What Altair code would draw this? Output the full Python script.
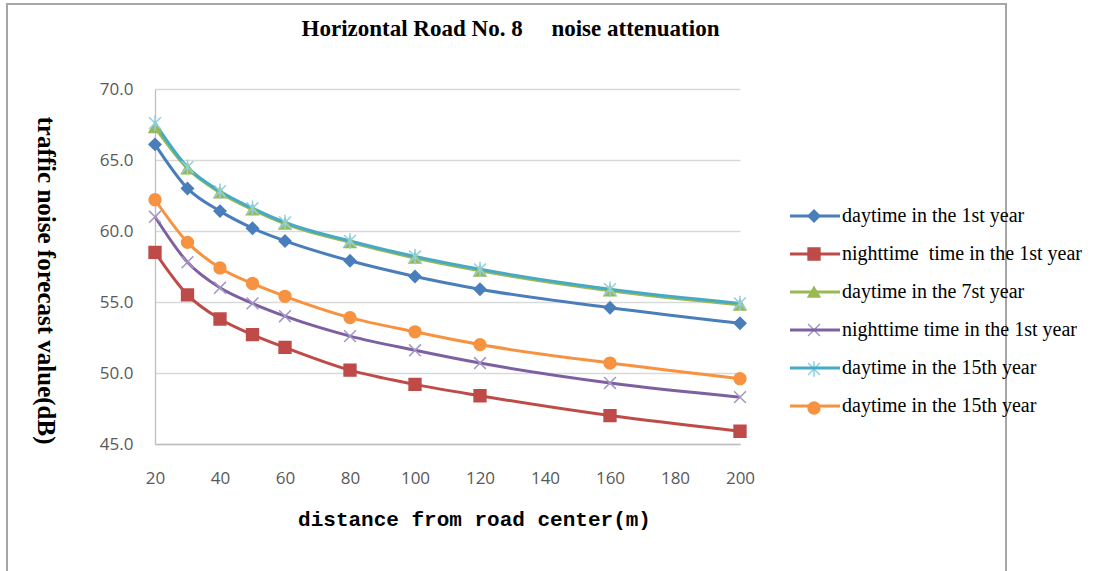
import altair as alt
import pandas as pd

# ---- data ----
distance = [20, 30, 40, 50, 60, 80, 100, 120, 160, 200]
series_names = [
    "daytime in the 1st year",
    "nighttime\u00a0 time in the 1st year",
    "daytime in the 7st year",
    "nighttime time in the 1st year",
    "daytime in the 15th year ",
    "daytime in the 15th year",
]
day_1st = [66.1, 63.0, 61.4, 60.2, 59.3, 57.9, 56.8, 55.9, 54.6, 53.5]
night_1st_a = [58.5, 55.5, 53.8, 52.7, 51.8, 50.2, 49.2, 48.4, 47.0, 45.9]
day_7th = [67.3, 64.4, 62.7, 61.5, 60.5, 59.2, 58.1, 57.2, 55.8, 54.8]
night_1st_b = [61.0, 57.8, 56.0, 54.9, 54.0, 52.6, 51.6, 50.7, 49.3, 48.3]
day_15th_a = [67.6, 64.5, 62.8, 61.6, 60.6, 59.3, 58.2, 57.3, 55.9, 54.9]
day_15th_b = [62.2, 59.2, 57.4, 56.3, 55.4, 53.9, 52.9, 52.0, 50.7, 49.6]
series_values = [day_1st, night_1st_a, day_7th, night_1st_b, day_15th_a, day_15th_b]

x_ticks = [20, 40, 60, 80, 100, 120, 140, 160, 180, 200]
y_ticks = [45, 50, 55, 60, 65, 70]

line_colors = ["#4A7EBB", "#BE4B48", "#98B954", "#7D60A0", "#46AAC5", "#F69240"]
marker_strokes = ["#4A7EBB", "#BE4B48", "#98B954", "#A495C8", "#8ED0E3", "#F69240"]
marker_shapes = [
    "diamond",
    "square",
    "triangle-up",
    "M-1,-1L1,1M-1,1L1,-1",
    "M-1,-1L1,1M-1,1L1,-1M0,-1.3L0,1.3",
    "circle",
]

rows = []
for name, vals in zip(series_names, series_values):
    for d, v in zip(distance, vals):
        rows.append({"series": name, "distance": d, "value": v})
df = pd.DataFrame(rows)

label_font = "Open Sans"
x_enc = alt.X(
    "distance:Q",
    scale=alt.Scale(domain=[20, 200], nice=False, zero=False),
    axis=alt.Axis(
        values=x_ticks,
        title="distance from road center(m)",
        grid=False,
        ticks=False,
        domainColor="#BFBFBF",
        domainWidth=1.3,
        labelFont=label_font,
        labelFontSize=17,
        labelColor="#595959",
        labelPadding=26,
        labelFlush=False,
        labelOverlap=False,
        titleFont="Liberation Mono",
        titleFontSize=21,
        titleFontWeight="bold",
        titleColor="#000000",
        titleX=319,
        titleY=75,
        titleBaseline="middle",
        titleAlign="center",
    ),
)
y_enc = alt.Y(
    "value:Q",
    scale=alt.Scale(domain=[45, 70], nice=False, zero=False),
    axis=alt.Axis(
        values=y_ticks,
        format=".1f",
        title="traffic noise forecast value(dB)",
        grid=True,
        gridColor="#D9D9D9",
        gridWidth=1.3,
        ticks=False,
        domainColor="#BFBFBF",
        domainWidth=1.3,
        labelFont=label_font,
        labelFontSize=17,
        labelColor="#595959",
        labelPadding=22,
        titleFont="Liberation Serif",
        titleFontSize=25,
        titleFontWeight="bold",
        titleColor="#000000",
        titleAngle=90,
        titleX=-110,
        titleY=191,
        titleAlign="center",
        titleBaseline="middle",
    ),
)

legend_common = dict(
    orient="none",
    title=None,
    labelFont="Liberation Serif",
    labelFontSize=20,
    labelColor="#000000",
    labelLimit=400,
    rowPadding=18,
    legendY=117,
)

line_legend = alt.Legend(
    symbolType="M-5,0H5",
    symbolSize=100,
    symbolStrokeWidth=3,
    labelOffset=17,
    legendX=650,
    **legend_common,
)
marker_legend = alt.Legend(
    symbolSize=140,
    symbolStrokeWidth=1.5,
    labelOpacity=0,
    labelOffset=17,
    legendX=649,
    **legend_common,
)

frame = alt.Chart(alt.Data(values=[{"k": 1}])).mark_rect(
    fillOpacity=0, stroke="#A6A6A6", strokeWidth=2
).encode(
    x=alt.value(-148), x2=alt.value(851), y=alt.value(-85), y2=alt.value(620)
)

lines = (
    alt.Chart(df)
    .transform_calculate(series2="datum.series")
    .mark_line(strokeWidth=3, interpolate="monotone")
    .encode(
        x=x_enc,
        y=y_enc,
        color=alt.Color(
            "series2:N",
            scale=alt.Scale(domain=series_names, range=line_colors),
            sort=series_names,
            legend=line_legend,
        ),
        detail="series:N",
    )
)

points = (
    alt.Chart(df)
    .mark_point(filled=True, size=140, strokeWidth=1.5, opacity=1)
    .encode(
        x=x_enc,
        y=y_enc,
        fill=alt.Fill(
            "series:N",
            scale=alt.Scale(domain=series_names, range=line_colors),
            legend=marker_legend,
        ),
        stroke=alt.Stroke(
            "series:N",
            scale=alt.Scale(domain=series_names, range=marker_strokes),
            legend=marker_legend,
        ),
        shape=alt.Shape(
            "series:N",
            scale=alt.Scale(domain=series_names, range=marker_shapes),
            legend=marker_legend,
        ),
    )
)

chart = (
    alt.layer(frame, lines, points)
    .resolve_scale(color="independent")
    .properties(
        width=585,
        height=355,
        padding={"left": 155, "top": 89, "right": 376, "bottom": 127},
        autosize=alt.AutoSizeParams(type="none"),
        background="#FFFFFF",
        title=alt.TitleParams(
            "Horizontal Road No. 8\u00a0\u00a0\u00a0\u00a0 noise attenuation",
            font="Liberation Serif",
            fontSize=23,
            fontWeight="bold",
            color="#000000",
            anchor="middle",
            frame="group",
            baseline="middle",
            dx=63,
            offset=-49,
        ),
    )
    .configure_view(strokeWidth=0)
)

chart.save("out.html", embed_options={"renderer": "svg", "actions": False})
